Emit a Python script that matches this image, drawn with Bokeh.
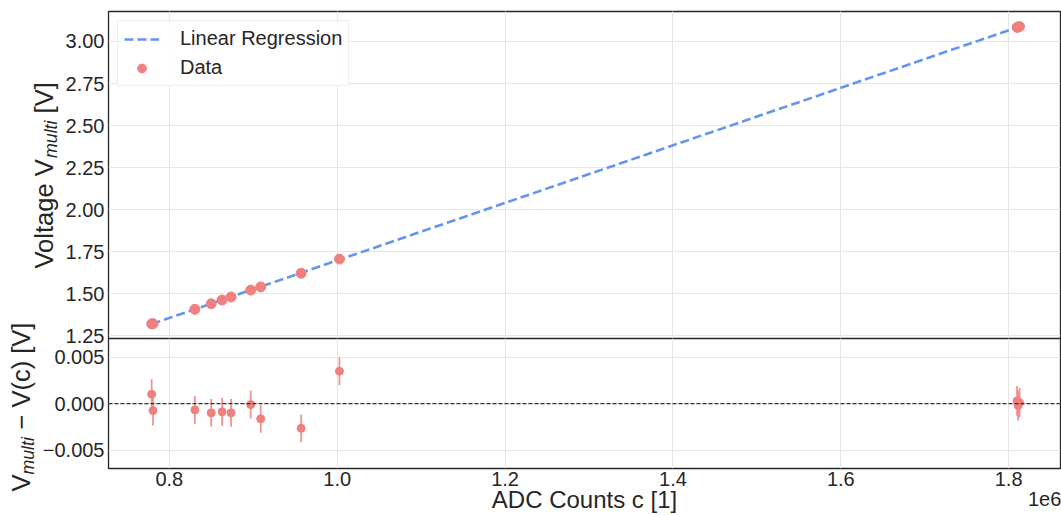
import math
from bokeh.plotting import figure
from bokeh.models import (FixedTicker, CustomJSTickFormatter, Range1d, Span,
                          Legend, LegendItem, Grid, GridBox, LinearAxis)
from bokeh.core.properties import value
from bokeh.embed import file_html
from bokeh.resources import INLINE

# ---------------- data ----------------
counts = [779000, 780600, 830500, 849900, 862900, 873600, 897000, 908900,
          957100, 1002700, 1810000, 1811200, 1813000]
voltages = [1.32156, 1.32252, 1.40792, 1.44077, 1.46311, 1.48130, 1.52220,
            1.54102, 1.62241, 1.70655, 3.08374, 3.08529, 3.08867]
residuals = [0.00103, -0.00074, -0.00067, -0.00099, -0.00088, -0.00099, -0.00010,
             -0.00163, -0.00266, 0.00351, 0.00030, -0.00020, 0.00010]
errors = [0.0016, 0.0016, 0.0015, 0.0015, 0.0015, 0.0015, 0.0015, 0.0015,
          0.0015, 0.0015, 0.0016, 0.0016, 0.0016]
fit_slope = 1.7099e-6
fit_intercept = -0.01148

x_ticks = [800000, 1000000, 1200000, 1400000, 1600000, 1800000]
v_ticks = [1.25, 1.50, 1.75, 2.00, 2.25, 2.50, 2.75, 3.00]
r_ticks = [-0.005, 0.0, 0.005]

legend_labels = ["Linear Regression", "Data"]
x_label = "ADC Counts c [1]"
offset_label = "1e6"
top_label_parts = ["Voltage V", "multi", "[V]"]
res_label_parts = ["V", "multi", "\u2212", "V(c) [V]"]

# ---------------- style ----------------
FONT = "Liberation Sans"
RED = "#F08080"
BLUE = "#6495ED"
TXT = "#262626"
GRID = "#e6e6e6"

x_range = Range1d(727553, 1861760)


def style(p, standoff=4):
    p.outline_line_color = TXT
    p.outline_line_width = 1.3
    for ax in p.axis:
        ax.axis_line_color = None
        ax.major_tick_line_color = None
        ax.minor_tick_line_color = None
        ax.major_tick_out = 0
        ax.major_tick_in = 0
        ax.major_label_standoff = standoff
        ax.major_label_text_font = FONT
        ax.major_label_text_font_size = "20px"
        ax.major_label_text_color = TXT
    for g in p.grid:
        g.grid_line_color = GRID
        g.grid_line_width = 1


def text_fig(w, h, opaque=True):
    f = figure(width=w, height=h, x_range=Range1d(0, w), y_range=Range1d(0, h),
               x_axis_location=None, y_axis_location=None, output_backend="svg",
               toolbar_location=None, min_border=0, title=None)
    f.outline_line_color = None
    f.background_fill_color = "white" if opaque else None
    f.border_fill_color = "white" if opaque else None
    f.xgrid.visible = False
    f.ygrid.visible = False
    return f


def put(f, x, y, txt, size, italic=False, angle=0.0, align="left"):
    f.text(x=[x], y=[y], text=[txt], angle=angle, text_font=value(FONT),
           text_font_size=value(size), text_color=TXT, text_align=align,
           text_baseline="middle",
           text_font_style="italic" if italic else "normal")


ROT = math.pi / 2

# ---------------- top panel (canvas 0..346, frame 11..338) ----------------
p1 = figure(width=999, height=346, x_range=x_range, y_range=Range1d(1.2345, 3.178),
            x_axis_location=None, output_backend="svg", toolbar_location=None,
            min_border_left=43, min_border_right=1, min_border_top=11,
            min_border_bottom=8)
p1.background_fill_color = "white"
p1.border_fill_color = "white"
p1.yaxis.ticker = FixedTicker(ticks=v_ticks)
p1.yaxis.formatter = CustomJSTickFormatter(code="return tick.toFixed(2);")
p1.add_layout(Grid(dimension=0, ticker=FixedTicker(ticks=x_ticks)))
style(p1)

x_fit = [min(counts), max(counts)]
y_fit = [fit_slope * c + fit_intercept for c in x_fit]
line_r = p1.line(x_fit, y_fit, line_color=BLUE, line_width=2.6, line_dash="9 4")
pts_r = p1.scatter(counts, voltages, size=10, color=RED)

legend = Legend(items=[LegendItem(label=legend_labels[0], renderers=[line_r]),
                       LegendItem(label=legend_labels[1], renderers=[pts_r])],
                location="top_left", margin=9, padding=6, spacing=6,
                glyph_width=35, glyph_height=22, label_height=22,
                label_standoff=21, label_text_font=FONT,
                label_text_font_size="20px", label_text_color=TXT,
                border_line_color="#dddddd", border_line_width=1,
                background_fill_color="white", background_fill_alpha=0.85)
p1.add_layout(legend)

# strip holding the residual y-axis label (page x 0..39, y 1..514)
bot_strip = text_fig(39, 513)
put(bot_strip, 20.1, 23, res_label_parts[0], "25.5px", angle=ROT)
put(bot_strip, 27.8, 40, res_label_parts[1], "17.7px", italic=True, angle=ROT)
put(bot_strip, 20.1, 85, res_label_parts[2], "25.5px", angle=ROT)
put(bot_strip, 20.1, 106.9, res_label_parts[3], "25.5px", angle=ROT)

# transparent strip on top holding the main y-axis label (page x 0..62, y 1..300)
top_strip = text_fig(62, 299, opaque=False)
put(top_strip, 43.1, 32, top_label_parts[0], "25.5px", angle=ROT)
put(top_strip, 50.8, 142.6, top_label_parts[1], "17.7px", italic=True, angle=ROT)
put(top_strip, 43.1, 187.1, top_label_parts[2], "25.5px", angle=ROT)

# ---------------- residual panel (canvas 338..515, frame 338..469) ----------------
p2 = figure(width=1022, height=177, x_range=x_range, y_range=Range1d(-0.00699, 0.00703),
            output_backend="svg", toolbar_location=None,
            min_border_left=66, min_border_right=1, min_border_top=0,
            min_border_bottom=46)
p2.background_fill_color = "white"
p2.border_fill_color = None
p2.xaxis.ticker = FixedTicker(ticks=x_ticks)
p2.xaxis.formatter = CustomJSTickFormatter(code="return (tick/1e6).toFixed(1);")
p2.yaxis.ticker = FixedTicker(ticks=r_ticks)
p2.yaxis.formatter = CustomJSTickFormatter(
    code="return tick.toFixed(3).replace('-', '\u2212');")
style(p2)
p2.xaxis.major_label_standoff = 3

# second, tick-less axis below: carries the offset text and the axis title
offset_axis = LinearAxis(
    ticker=FixedTicker(ticks=[1842800]),
    formatter=CustomJSTickFormatter(code="return '%s';" % offset_label),
    axis_label=x_label, axis_label_standoff=-23,
    axis_label_text_font=FONT, axis_label_text_font_size="24px",
    axis_label_text_font_style="normal", axis_label_text_color=TXT,
    axis_line_color=None, major_tick_line_color=None, minor_tick_line_color=None,
    major_tick_out=0, major_tick_in=0, major_label_standoff=3,
    major_label_text_font=FONT, major_label_text_font_size="20px",
    major_label_text_color=TXT)
p2.add_layout(offset_axis, "below")

p2.add_layout(Span(location=0, dimension="width", line_color="#333333",
                   line_width=1.2, line_dash="4 2"))
lo = [r - e for r, e in zip(residuals, errors)]
hi = [r + e for r, e in zip(residuals, errors)]
p2.segment(x0=counts, y0=lo, x1=counts, y1=hi, line_color=RED, line_width=1.8,
           line_alpha=0.85)
p2.scatter(counts, residuals, size=8, color=RED)

# rows: 0..1 | 1..300 | 300..338 | 338..346 | 346..514 | 514..515
layout = GridBox(
    children=[(bot_strip, 1, 0, 4, 2),
              (top_strip, 1, 0, 1, 3),
              (p1, 0, 3, 4, 1),
              (p2, 3, 2, 3, 2)],
    rows=["1px", "299px", "38px", "8px", "168px", "1px"],
    cols=["28px", "11px", "23px", "999px"],
    spacing=0)
open("out.html", "w").write(file_html(layout, INLINE))
